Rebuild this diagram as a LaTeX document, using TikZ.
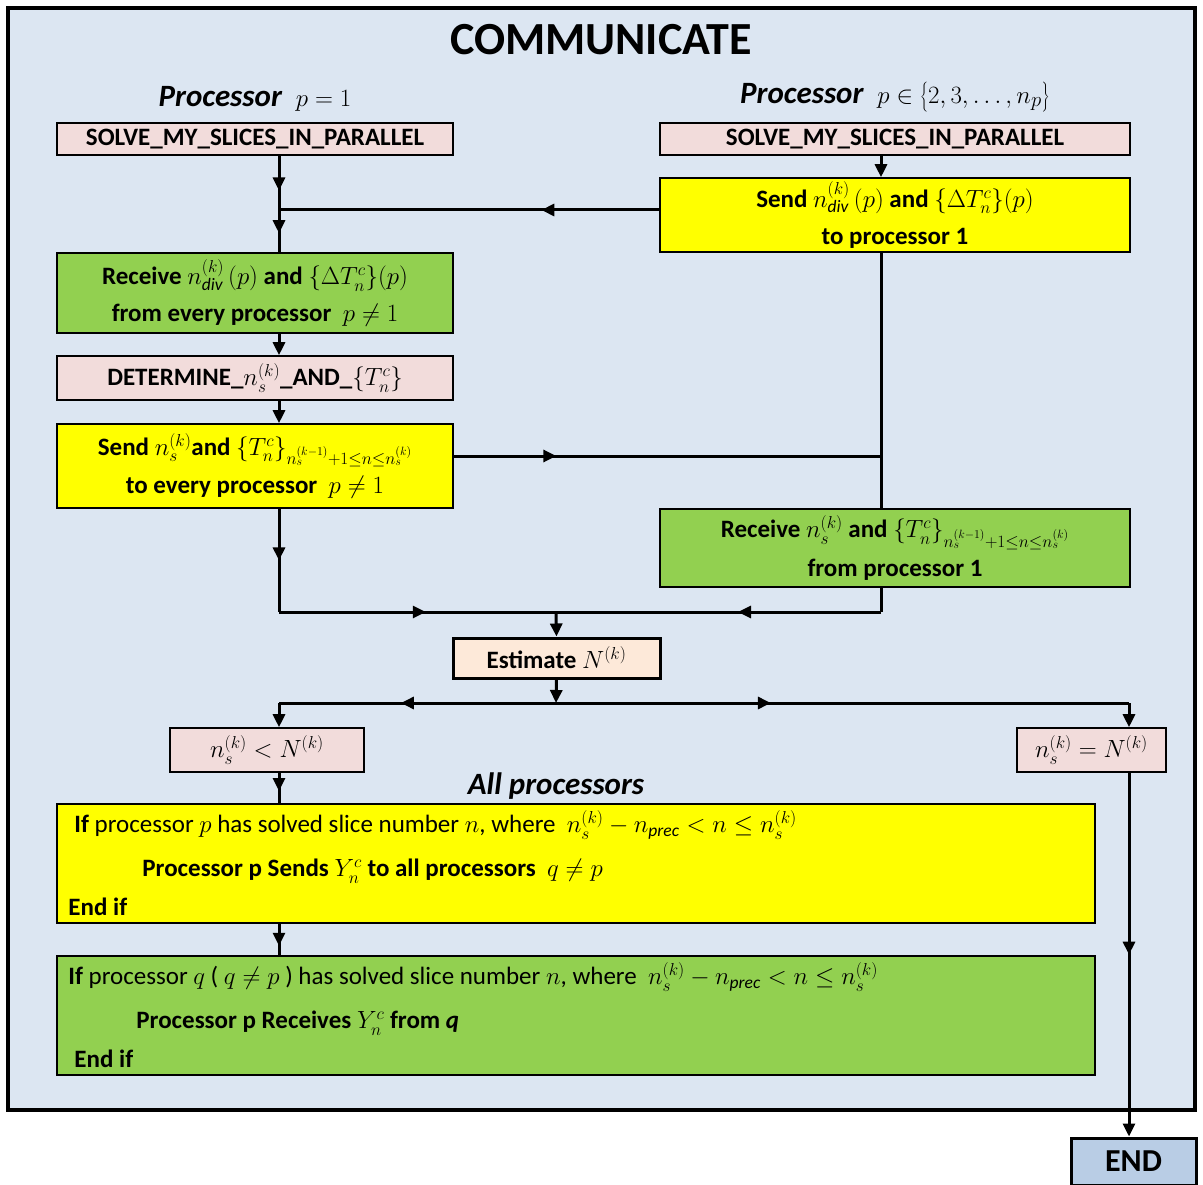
\documentclass[tikz,border=0pt]{standalone}
\usepackage{fontspec}
\setmainfont{Carlito}
\usepackage{xcolor}
\usetikzlibrary{arrows.meta, decorations.markings}
\definecolor{framebg}{HTML}{DCE6F2}
\definecolor{boxpink}{HTML}{F2DCDB}
\definecolor{boxyellow}{HTML}{FFFF00}
\definecolor{boxgreen}{HTML}{92D050}
\definecolor{boxpeach}{HTML}{FDE9D9}
\definecolor{boxend}{HTML}{B9CDE5}

\begin{document}
\begin{tikzpicture}[x=1pt, y=-1pt,
    box/.style={draw, line width=1.6pt, inner sep=0pt, align=center,
      font=\fontsize{25}{29}\selectfont\bfseries},
    pinkbox/.style={box, fill=boxpink},
    yellowbox/.style={box, fill=boxyellow},
    greenbox/.style={box, fill=boxgreen},
    txt/.style={anchor=west, inner sep=0pt, font=\fontsize{25}{29}\selectfont},
    heading/.style={font=\fontsize{31}{35}\selectfont\bfseries\itshape},
    conn/.style={line width=3pt},
    tip/.style={-{Triangle[length=13pt,width=12pt]}},
    midarrow/.style={postaction={decorate}, decoration={markings,
      mark=at position #1 with {\arrow{Triangle[length=13pt,width=12pt]}}}}]
  \useasboundingbox (0,0) rectangle (1203,1185);
  \draw[line width=4pt, fill=framebg] (8,8) rectangle (1195,1110);

  \node[font=\fontsize{46}{52}\selectfont\bfseries] (title) at (601,40) {COMMUNICATE};
  \node[heading] (headL) at (255,99) {Processor\ \ $p=1$};
  \node[heading] (headR) at (895,97) {Processor\ \ $p\in\left\{2,3,\ldots,n_p\right\}$};

  \node[pinkbox, minimum width=396pt, minimum height=32pt] (solveL) at (255,139) {SOLVE\_MY\_SLICES\_IN\_PARALLEL};
  \node[pinkbox, minimum width=470pt, minimum height=32pt] (solveR) at (895,139) {SOLVE\_MY\_SLICES\_IN\_PARALLEL};
  \node[yellowbox, minimum width=470pt, minimum height=74pt] (sendR) at (895,215)
    {Send $n_{\mathit{div}}^{(k)}\left(p\right)$ and $\left\{\Delta T_n^c\right\}\!\left(p\right)$\\[8pt] to processor 1};
  \node[greenbox, minimum width=396pt, minimum height=80pt] (recvL) at (255,293)
    {Receive $n_{\mathit{div}}^{(k)}\left(p\right)$ and $\left\{\Delta T_n^c\right\}\!\left(p\right)$\\[8pt] from every processor\ \ $p\neq 1$};
  \node[pinkbox, minimum width=396pt, minimum height=44pt] (detL) at (255,378)
    {DETERMINE\_$n_s^{(k)}$\_AND\_$\left\{T_n^c\right\}$};
  \node[yellowbox, minimum width=396pt, minimum height=84pt] (sendL) at (255,466)
    {Send $n_s^{(k)}$and $\left\{T_n^c\right\}_{n_s^{(k-1)}+1\le n\le n_s^{(k)}}$\\[8pt] to every processor\ \ $p\neq 1$};
  \node[greenbox, minimum width=470pt, minimum height=78pt] (recvR) at (895,548)
    {Receive $n_s^{(k)}$ and $\left\{T_n^c\right\}_{n_s^{(k-1)}+1\le n\le n_s^{(k)}}$\\[8pt] from processor 1};
  \node[box, line width=3pt, fill=boxpeach, minimum width=207pt, minimum height=40pt] (est) at (556.5,658)
    {Estimate $N^{(k)}$};
  \node[pinkbox, minimum width=194pt, minimum height=44pt] (less) at (267,750) {$n_s^{(k)}<N^{(k)}$};
  \node[pinkbox, minimum width=149pt, minimum height=44pt] (equal) at (1091.5,750) {$n_s^{(k)}=N^{(k)}$};
  \node[heading] (allp) at (556,786) {All processors};

  \node[yellowbox, minimum width=1038pt, minimum height=119pt] (ifsend) at (576,863.5) {};
  \node[txt] (ifsendA) at ([xshift=18pt, yshift=-22pt]ifsend.north west)
    {\textbf{If} processor $p$ has solved slice number $n$, where\ \ $n_s^{(k)}-n_{\mathit{prec}}<n\le n_s^{(k)}$};
  \node[txt, font=\fontsize{25}{29}\selectfont\bfseries] (ifsendB) at ([xshift=86pt, yshift=-68pt]ifsend.north west)
    {Processor p Sends $Y_n^c$ to all processors\ \ $q\neq p$};
  \node[txt, font=\fontsize{25}{29}\selectfont\bfseries] (ifsendC) at ([xshift=12pt, yshift=-104pt]ifsend.north west) {End if};

  \node[greenbox, minimum width=1038pt, minimum height=119pt] (ifrecv) at (576,1015.5) {};
  \node[txt] (ifrecvA) at ([xshift=12pt, yshift=-22pt]ifrecv.north west)
    {\textbf{If} processor $q$ ( $q\neq p$ ) has solved slice number $n$, where\ \ $n_s^{(k)}-n_{\mathit{prec}}<n\le n_s^{(k)}$};
  \node[txt, font=\fontsize{25}{29}\selectfont\bfseries] (ifrecvB) at ([xshift=80pt, yshift=-68pt]ifrecv.north west)
    {Processor p Receives $Y_n^c$ from \textit{q}};
  \node[txt, font=\fontsize{25}{29}\selectfont\bfseries] (ifrecvC) at ([xshift=18pt, yshift=-104pt]ifrecv.north west) {End if};

  \node[box, line width=3pt, fill=boxend, minimum width=125pt, minimum height=47pt,
    font=\fontsize{32}{36}\selectfont\bfseries] (endbox) at (1133.5,1161.5) {END};

  \coordinate (a1) at (279,210);
  \coordinate (a2) at (881,456);
  \coordinate (b1) at (279,612);
  \coordinate (b2) at (881,612);
  \coordinate (b3) at (556,612);
  \coordinate (c1) at (279,703);
  \coordinate (c2) at (556,703);
  \coordinate (c3) at (1129,703);

  \draw[conn, midarrow=0.64] (solveL.south -| a1) -- (a1);
  \draw[conn, midarrow=0.31] (sendR.west |- a1) -- (a1);
  \draw[conn, midarrow=0.55] (a1) -- (recvL.north -| a1);
  \draw[conn, tip] (solveR.south -| a2) -- (sendR.north -| a2);
  \draw[conn, tip] (recvL.south -| a1) -- (detL.north -| a1);
  \draw[conn, tip] (detL.south -| a1) -- (sendL.north -| a1);
  \draw[conn, midarrow=0.24] (sendL.east |- a2) -- (a2);
  \draw[conn] (sendR.south -| a2) -- (recvR.north -| a2);
  \draw[conn, midarrow=0.5] (sendL.south -| b1) -- (b1);
  \draw[conn, midarrow=0.53] (b1) -- (b3);
  \draw[conn] (recvR.south -| b2) -- (b2);
  \draw[conn, midarrow=0.44] (b2) -- (b3);
  \draw[conn, tip] (b3) -- (est.north);
  \draw[conn, tip] (est.south) -- (c2);
  \draw[conn, midarrow=0.56] (c2) -- (c1);
  \draw[conn, tip] (c1) -- (less.north -| c1);
  \draw[conn, midarrow=0.375] (c2) -- (c3);
  \draw[conn, tip] (c3) -- (equal.north -| c3);
  \draw[conn, midarrow=0.6] (less.south -| c1) -- (ifsend.north -| c1);
  \draw[conn, midarrow=0.7] (ifsend.south -| c1) -- (ifrecv.north -| c1);
  \draw[conn, midarrow=0.5, tip] (equal.south -| c3) -- (endbox.north -| c3);
\end{tikzpicture}
\end{document}
